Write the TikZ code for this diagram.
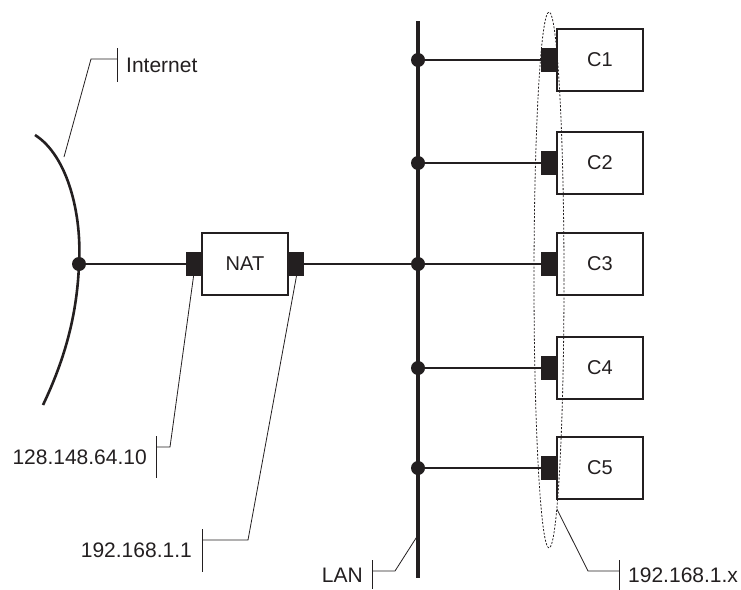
\documentclass[tikz,border=0pt]{standalone}
\usepackage{fontspec}
\setmainfont{Liberation Sans}
\usetikzlibrary{shapes.geometric}

\definecolor{ink}{HTML}{231F20}

\tikzset{
  box/.style={draw=ink,line width=1.5pt,minimum width=86pt,minimum height=62pt,inner sep=0pt,
    text=ink,font=\fontsize{20}{24}\selectfont},
  port/.style={fill=ink,minimum width=15pt,minimum height=24pt,inner sep=0pt},
  dot/.style={circle,fill=ink,minimum size=14pt,inner sep=0pt},
  wire/.style={line width=2.6pt,draw=ink},
  lead/.style={line width=0.8pt,draw=ink},
  tag/.style={inner sep=0pt,text=ink,font=\fontsize{21}{25}\selectfont}
}

\begin{document}
\begin{tikzpicture}[x=1pt,y=-1pt]
\useasboundingbox (0,0) rectangle (741,589);

% Internet
\coordinate (I1) at (35,135);
\node[dot] (d0) at (79,264) {};
\coordinate (I2) at (43,405);
\draw[wire] (I1) .. controls (68,156) and (82,215) .. (d0.center)
  .. controls (77,320) and (62,365) .. (I2);

% NAT
\node[box] (nat) at (245,264) {NAT};
\node[port,anchor=east] (np1) at (nat.west) {};
\node[port,anchor=west] (np2) at (nat.east) {};
\draw[wire] (d0) -- (np1);

% LAN bus
\coordinate (bt) at (418,21);
\coordinate (bb) at (418,578);
\draw[wire,line width=3.2pt] (bt) -- (bb);

% clients
\foreach \k/\y in {1/60,2/163,3/264,4/368,5/468}{
  \node[dot] (b\k) at (418,\y) {};
  \node[box] (c\k) at (600,\y) {C\k};
  \node[port,anchor=east] (p\k) at (c\k.west) {};
  \draw[wire] (b\k) -- (p\k);
}
\draw[wire] (np2) -- (b3);
\node[ellipse,draw=ink,line width=0.8pt,dash pattern=on 2pt off 1.6pt,
  minimum width=30pt,minimum height=536pt,inner sep=0pt] (grp) at (549,280) {};

% labels
\node[tag,anchor=west] (tI) at (126,65) {Internet};
\coordinate (kI1) at (117,48);
\coordinate (kI2) at (117,82);
\coordinate (eI) at (64,157);
\draw[lead] (kI1) -- (kI2);
\draw[lead] (eI) -- (91,59) -- (117,59);

\node[tag,anchor=east] (tA) at (147,457) {128.148.64.10};
\coordinate (kA1) at (156,436);
\coordinate (kA2) at (156,478);
\draw[lead] (kA1) -- (kA2);
\draw[lead] (np1.south) -- (170,447) -- (156,447);

\node[tag,anchor=east] (tB) at (192,550) {192.168.1.1};
\coordinate (kB1) at (202,529);
\coordinate (kB2) at (202,572);
\draw[lead] (kB1) -- (kB2);
\draw[lead] (np2.south) -- (248,540) -- (202,540);

\node[tag,anchor=east] (tL) at (363,575) {LAN};
\coordinate (kL1) at (372,560);
\coordinate (kL2) at (372,589);
\coordinate (eL) at (418,535);
\draw[lead] (kL1) -- (kL2);
\draw[lead] (eL) -- (395,571) -- (372,571);

\node[tag,anchor=west] (tX) at (628,575) {192.168.1.x};
\coordinate (kX1) at (619,560);
\coordinate (kX2) at (619,590);
\draw[lead] (kX1) -- (kX2);
\draw[lead] (grp.-88.4) -- (588,571) -- (619,571);
\end{tikzpicture}
\end{document}
